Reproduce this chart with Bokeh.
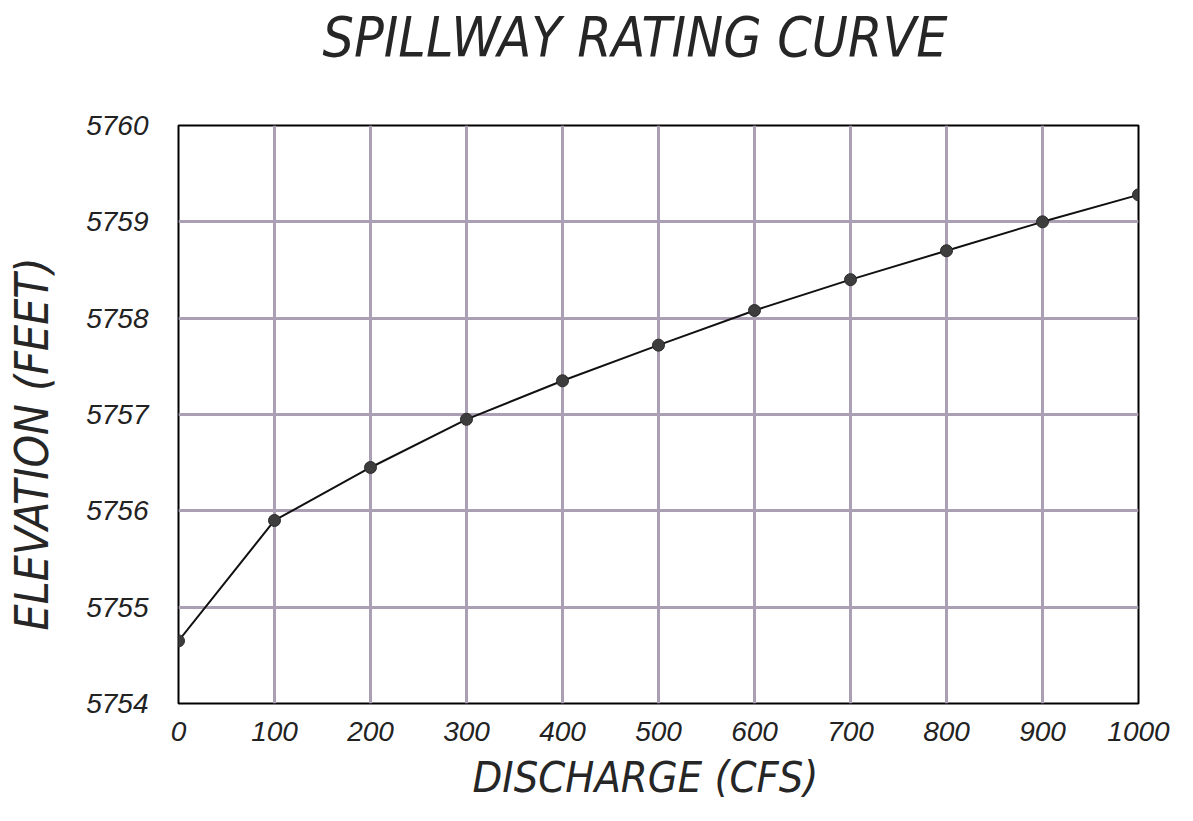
from bokeh.plotting import figure
from bokeh.models import Range1d, FixedTicker, Title, LinearAxis
from bokeh.embed import file_html
from bokeh.resources import INLINE

# Spillway discharge (cfs) versus reservoir water-surface elevation (ft)
discharge = [0, 100, 200, 300, 400, 500, 600, 700, 800, 900, 1000]
elevation = [5754.65, 5755.9, 5756.45, 5756.95, 5757.35, 5757.72, 5758.08,
             5758.4, 5758.7, 5759.0, 5759.28]

x_ticks = [0, 100, 200, 300, 400, 500, 600, 700, 800, 900, 1000]
y_ticks = [5754, 5755, 5756, 5757, 5758, 5759, 5760]

FONT = "DejaVu Sans Condensed"
TICK_FONT = "Liberation Sans"
GRID = "#ab9fb3"
INK = "#262626"

p = figure(width=1193, height=821, output_backend="svg", toolbar_location=None,
           x_range=Range1d(0, 1000), y_range=Range1d(5754, 5760),
           min_border_left=178, min_border_right=55,
           min_border_top=125, min_border_bottom=118)

p.outline_line_color = "black"
p.outline_line_width = 2
p.background_fill_color = "white"
p.border_fill_color = "white"

for ax in (p.xaxis, p.yaxis):
    ax.axis_line_color = None
    ax.major_tick_line_color = None
    ax.minor_tick_line_color = None
    ax.major_label_text_font = TICK_FONT
    ax.major_label_text_font_style = "italic"
    ax.major_label_text_font_size = "28px"
    ax.major_label_text_color = "#222222"

p.xaxis.ticker = FixedTicker(ticks=x_ticks)
p.yaxis.ticker = FixedTicker(ticks=y_ticks)
p.xaxis.major_label_standoff = 12
p.yaxis.major_label_standoff = 24


def spacer(size, tick):
    """Blank axis that only reserves room between the frame and a title."""
    return LinearAxis(ticker=FixedTicker(ticks=[tick]), axis_line_color=None,
                      major_tick_line_color=None, minor_tick_line_color=None,
                      major_tick_in=0, major_tick_out=size, minor_tick_out=0,
                      major_label_standoff=0, major_label_text_color=None,
                      major_label_text_font_size="1px")


# chart title, lifted well above the frame
p.add_layout(spacer(57, 500), "above")
main_title = Title(text="SPILLWAY RATING CURVE", text_font=FONT,
                   text_font_style="italic", text_font_size="55px",
                   text_color=INK, align="left", offset=144, standoff=0)
p.add_layout(main_title, "above")

# axis titles, positioned along their axes
x_title = Title(text="DISCHARGE (CFS)", text_font=FONT, text_font_style="italic",
                text_font_size="43px", text_color=INK, align="left",
                offset=294, standoff=12)
p.add_layout(x_title, "below")

p.add_layout(spacer(25, 5757), "left")
y_title = Title(text="ELEVATION (FEET)", text_font=FONT, text_font_style="italic",
                text_font_size="46px", text_color=INK, align="left",
                offset=73, standoff=0)
p.add_layout(y_title, "left")

p.xgrid.ticker = FixedTicker(ticks=x_ticks)
p.ygrid.ticker = FixedTicker(ticks=y_ticks)
for g in (p.xgrid, p.ygrid):
    g.grid_line_color = GRID
    g.grid_line_width = 3

p.line(discharge, elevation, line_color="#111111", line_width=2)
p.scatter(discharge, elevation, size=12, fill_color="#3d3d3d",
          line_color="#2a2a2a", line_width=1)

open("out.html", "w").write(file_html(p, INLINE))
